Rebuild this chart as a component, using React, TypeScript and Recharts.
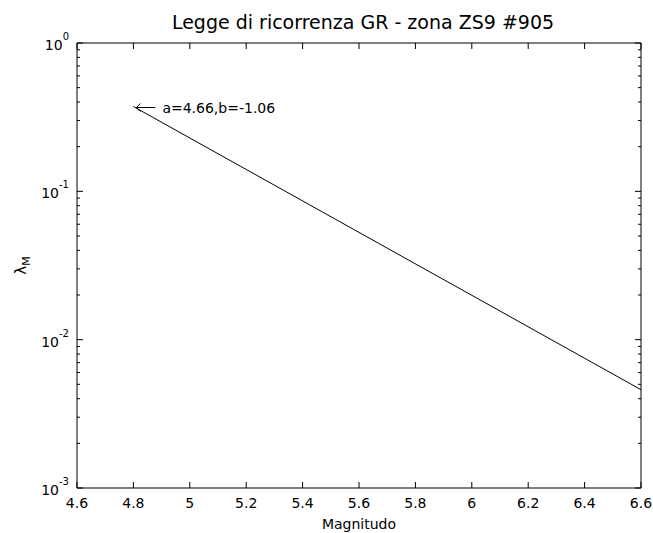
import React from 'react';
import { LineChart, Line, XAxis, YAxis, Label } from 'recharts';

// Gutenberg-Richter recurrence line (two end points, straight in log space)
const MAGNITUDES = [4.8, 6.6];
const RATES = [0.373, 0.0046];

const X_TICKS = [4.6, 4.8, 5, 5.2, 5.4, 5.6, 5.8, 6, 6.2, 6.4, 6.6];
const Y_DECADES = [0.001, 0.01, 0.1, 1];
const Y_EXPONENTS = ['-3', '-2', '-1', '0'];
const MINOR_STEPS = [2, 3, 4, 5, 6, 7, 8, 9];

const TITLE = 'Legge di ricorrenza GR - zona ZS9 #905';
const X_LABEL = 'Magnitudo';
const ANNOTATION = 'a=4.66,b=-1.06';

const W = 653;
const H = 533;
const PLOT_LEFT = 77;
const PLOT_RIGHT = 641;
const PLOT_TOP = 43;
const PLOT_BOTTOM = 488;
const MAJOR = 6;
const MINOR = 3;
const FONT = '"DejaVu Sans", Verdana, sans-serif';
const INK = '#000';

const data = MAGNITUDES.map((m, i) => ({ m, rate: RATES[i] }));

const yTicks: number[] = [];
Y_DECADES.forEach((d, i) => {
  yTicks.push(d);
  if (i < Y_DECADES.length - 1) MINOR_STEPS.forEach((s) => yTicks.push(+(d * s).toPrecision(3)));
});

const decadeIndex = (v: number) => Y_DECADES.findIndex((d) => Math.abs(d - v) < d * 1e-6);

const BottomTick = (props: any) => {
  const { x, payload } = props;
  return (
    <g>
      <line x1={x} x2={x} y1={PLOT_BOTTOM} y2={PLOT_BOTTOM - MAJOR} stroke={INK} />
      <text x={x} y={PLOT_BOTTOM + 20} textAnchor="middle" fontSize={14} fontFamily={FONT} fill={INK}>
        {payload.value}
      </text>
    </g>
  );
};

const TopTick = (props: any) => {
  const { x } = props;
  return <line x1={x} x2={x} y1={PLOT_TOP} y2={PLOT_TOP + MAJOR} stroke={INK} />;
};

const LeftTick = (props: any) => {
  const { y, payload } = props;
  const idx = decadeIndex(payload.value);
  const major = idx >= 0;
  return (
    <g>
      <line x1={PLOT_LEFT} x2={PLOT_LEFT + (major ? MAJOR : MINOR)} y1={y} y2={y} stroke={INK} />
      {major && (
        <text x={PLOT_LEFT - 8} y={y + 7} textAnchor="end" fontSize={14} fontFamily={FONT} fill={INK}>
          10
          <tspan dy={-10} fontSize={10}>
            {Y_EXPONENTS[idx]}
          </tspan>
        </text>
      )}
    </g>
  );
};

const RightTick = (props: any) => {
  const { y, payload } = props;
  const major = decadeIndex(payload.value) >= 0;
  return <line x1={PLOT_RIGHT} x2={PLOT_RIGHT - (major ? MAJOR : MINOR)} y1={y} y2={y} stroke={INK} />;
};

// "\leftarrow a=..., b=..." text placed at the first point of the line
const AnnotationLabel = (props: any) => {
  const { x, y, index } = props;
  if (index !== 0) return null;
  const ay = y + 1;
  return (
    <g>
      <path d={`M${x + 3},${ay} H${x + 22} M${x + 7},${ay - 4} L${x + 3},${ay} L${x + 7},${ay + 4}`} stroke={INK} fill="none" />
      <text x={x + 29} y={y + 6} fontSize={14} fontFamily={FONT} fill={INK}>
        {ANNOTATION}
      </text>
    </g>
  );
};

export default function App() {
  return (
    <div style={{ position: 'absolute', left: 0, top: 0, width: W, height: H, background: '#fff' }}>
      <LineChart width={W} height={H} data={data} margin={{ top: 41, right: 10, bottom: 15, left: 17 }}>
        <XAxis
          xAxisId="bottom"
          dataKey="m"
          type="number"
          domain={[4.6, 6.6]}
          ticks={X_TICKS}
          interval={0}
          height={30}
          tickLine={false}
          axisLine={{ stroke: INK }}
          tick={<BottomTick />}
        >
          <Label
            content={() => (
              <text x={(PLOT_LEFT + PLOT_RIGHT) / 2} y={PLOT_BOTTOM + 41} textAnchor="middle" fontSize={14} fontFamily={FONT} fill={INK}>
                {X_LABEL}
              </text>
            )}
          />
        </XAxis>
        <XAxis
          xAxisId="top"
          orientation="top"
          dataKey="m"
          type="number"
          domain={[4.6, 6.6]}
          ticks={X_TICKS}
          interval={0}
          height={2}
          tickLine={false}
          axisLine={{ stroke: INK }}
          tick={<TopTick />}
        >
          <Label
            content={() => (
              <text x={(PLOT_LEFT + PLOT_RIGHT) / 2 + 4} y={29} textAnchor="middle" fontSize={19} fontFamily={FONT} fill={INK}>
                {TITLE}
              </text>
            )}
          />
        </XAxis>
        <YAxis
          yAxisId="left"
          scale="log"
          type="number"
          domain={[0.001, 1]}
          allowDataOverflow
          ticks={yTicks}
          interval={0}
          width={60}
          tickLine={false}
          axisLine={{ stroke: INK }}
          tick={<LeftTick />}
        >
          <Label
            content={() => {
              const cx = 26;
              const cy = (PLOT_TOP + PLOT_BOTTOM) / 2;
              return (
                <text transform={`translate(${cx},${cy}) rotate(-90)`} textAnchor="middle" fontSize={15} fontFamily={FONT} fill={INK}>
                  λ
                  <tspan dy={4} fontSize={11}>
                    M
                  </tspan>
                </text>
              );
            }}
          />
        </YAxis>
        <YAxis
          yAxisId="right"
          orientation="right"
          scale="log"
          type="number"
          domain={[0.001, 1]}
          allowDataOverflow
          ticks={yTicks}
          interval={0}
          width={2}
          tickLine={false}
          axisLine={{ stroke: INK }}
          tick={<RightTick />}
        />
        <Line
          xAxisId="bottom"
          yAxisId="left"
          dataKey="rate"
          stroke={INK}
          strokeWidth={1}
          dot={false}
          isAnimationActive={false}
          label={<AnnotationLabel />}
        />
      </LineChart>
    </div>
  );
}
